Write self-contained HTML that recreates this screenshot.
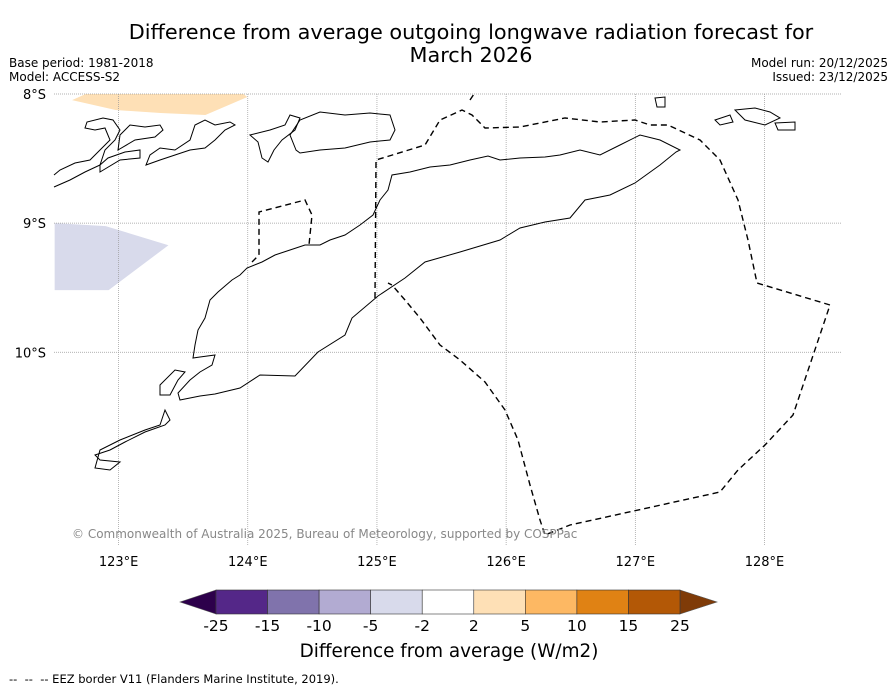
<!DOCTYPE html>
<html><head><meta charset="utf-8"><style>
body{margin:0;background:#fff;font-family:"DejaVu Sans","Liberation Sans",sans-serif;}
svg{display:block}
</style></head><body>
<svg id="chart" width="896" height="690" viewBox="0 0 896 690">
<text x="471" y="39" font-size="20.8" text-anchor="middle">Difference from average outgoing longwave radiation forecast for</text>
<text x="471" y="62" font-size="20.8" text-anchor="middle">March 2026</text>
<text x="9" y="67" font-size="12">Base period: 1981-2018</text>
<text x="9" y="81" font-size="12">Model: ACCESS-S2</text>
<text x="888" y="67" font-size="12" text-anchor="end">Model run: 20/12/2025</text>
<text x="888" y="81" font-size="12" text-anchor="end">Issued: 23/12/2025</text>
<g id="fills"></g>
<g id="grid"></g>
<g id="coast" fill="none" stroke="#000" stroke-width="1">
<path d="M180,400 L200,396 L215,394 L240,388 L260,375 L295,376 L318,352 L345,335 L352,318 L378,296 L405,278 L425,262 L460,252 L500,240 L520,228 L545,222 L570,218 L585,200 L610,195 L635,183 L660,165 L676,152 L680,150 L660,140 L640,135 L620,145 L600,155 L580,150 L560,155 L545,157 L520,158 L500,160 L488,156 L470,160 L450,165 L430,167 L410,172 L392,175 L388,190 L380,200 L373,215 L360,225 L345,235 L330,240 L320,245 L305,245 L290,250 L275,255 L262,262 L247,268 L240,275 L232,280 L218,292 L210,300 L205,318 L198,330 L195,345 L193,358 L200,357 L215,355 L212,365 L200,372 L190,380 L178,393 Z"/>
<path d="M54,187 L70,180 L85,172 L100,165 L105,150 L115,140 L120,130 L113,120 L103,118 L87,122 L85,128 L95,130 L105,128 L110,140 L100,150 L90,160 L75,163 L60,170 L54,175"/>
<path d="M118,150 L135,140 L155,137 L163,130 L160,125 L145,127 L130,125 L120,135 Z"/>
<path d="M100,172 L120,160 L140,158 L140,150 L125,152 L108,158 L100,165 Z"/>
<path d="M146,165 L160,160 L175,155 L190,150 L205,148 L215,140 L225,130 L235,125 L230,122 L215,125 L205,120 L195,125 L190,140 L175,150 L160,148 L150,155 Z"/>
<path d="M296,150 L290,135 L300,120 L320,112 L345,115 L370,113 L390,115 L395,130 L390,140 L370,142 L345,148 L320,150 L300,153 Z"/>
<path d="M250,135 L270,130 L285,125 L290,115 L300,118 L295,130 L282,140 L274,150 L268,162 L262,158 L258,142 Z"/>
<path d="M735,110 L755,108 L770,112 L780,118 L765,125 L745,120 Z"/>
<path d="M775,123 L795,122 L795,130 L778,130 Z"/>
<path d="M715,120 L730,115 L733,122 L720,125 Z"/>
<path d="M655,98 L665,97 L665,107 L657,107 Z"/>
<path d="M160,385 L175,370 L185,372 L178,380 L170,395 L160,395 Z"/>
<path d="M95,455 L110,450 L125,442 L145,432 L165,425 L170,420 L165,410 L160,425 L145,430 L120,440 L100,450 L95,468 L110,470 L120,462 L100,460 Z"/>
</g>
<g fill="none" stroke="#000" stroke-width="1.4" stroke-dasharray="6,4">
<path d="M375,298 L376,160 L425,145 L440,120 L462,110 L472,115 L485,128 L520,127 L565,118 L600,122 L635,120 L650,125 L668,125 L700,140 L720,160 L738,200 L748,240 L757,283 L830,305 L793,415 L765,445 L738,470 L720,492 L570,525 L545,535 L540,520 L530,485 L518,440 L505,410 L485,382 L460,360 L440,345 L420,318 L405,300 L392,285 L388,283"/>
<path d="M252,262 L259,255 L259,212 L305,200 L312,215 L309,245"/>
<path d="M470,100 L474,94"/>
</g>
<text x="72" y="538" font-size="12" fill="#888">© Commonwealth of Australia 2025, Bureau of Meteorology, supported by COSPPac</text>
<g id="lonlabels"></g>
<g id="latlabels"></g>
<g id="colorbar"></g>
<text x="449" y="657" font-size="18.4" text-anchor="middle">Difference from average (W/m2)</text>
<text x="9" y="683" font-size="11.5" xml:space="preserve">--  --  -- EEZ border V11 (Flanders Marine Institute, 2019).</text>
</svg>
<script>
const lonTicks=[123,124,125,126,127,128];
const lonTickLabels=["123°E","124°E","125°E","126°E","127°E","128°E"];
const latTicks=[-8,-9,-10];
const latTickLabels=["8°S","9°S","10°S"];
const posAnomLon=[122.64,122.745,123.966,123.997,123.672,123.325,122.977];
const posAnomLat=[-8.047,-8,-8,-8.023,-8.163,-8.147,-8.124];
const negAnomLon=[122.505,122.9,123.386,122.923,122.505];
const negAnomLat=[-9.0,-9.023,-9.171,-9.519,-9.519];
const cbLevels=[-25,-15,-10,-5,-2,2,5,10,15,25];
const cbColors=["#542788","#8073ac","#b2abd2","#d8daeb","#ffffff","#fee0b6","#fdb863","#e08214","#b35806"];
const cbUnder="#2d004b", cbOver="#7f3b08";
const NS="http://www.w3.org/2000/svg";
const X0=54,X1=842,Y0=94,Y1=546,lonMin=122.5,lonMax=128.6,latMax=-8,latMin=-11.5;
function xs(lon){return X0+(lon-lonMin)/(lonMax-lonMin)*(X1-X0);}
function ys(lat){return Y0+(latMax-lat)/(latMax-latMin)*(Y1-Y0);}
function mk(t,a,p){const e=document.createElementNS(NS,t);for(const k in a)e.setAttribute(k,a[k]);p.appendChild(e);return e;}
const fills=document.getElementById('fills');
let p=mk('polygon',{points:posAnomLon.map((l,i)=>xs(l)+','+ys(posAnomLat[i])).join(' '),fill:'#fee0b6'},fills);


p=mk('polygon',{points:negAnomLon.map((l,i)=>xs(l)+','+ys(negAnomLat[i])).join(' '),fill:'#d8daeb'},fills);


const grid=document.getElementById('grid');
lonTicks.forEach((l,i)=>{
 const g=mk('line',{x1:xs(l),x2:xs(l),y1:Y0,y2:Y1,stroke:'#999','stroke-width':0.7,'stroke-dasharray':'1,1'},grid);
 
 
 const t=mk('text',{x:xs(l),y:566,'font-size':13,'text-anchor':'middle'},document.getElementById('lonlabels'));
 t.textContent=lonTickLabels[i];
 
 
});
latTicks.forEach((l,i)=>{
 const g=mk('line',{x1:X0,x2:X1,y1:ys(l),y2:ys(l),stroke:'#999','stroke-width':0.7,'stroke-dasharray':'1,1'},grid);
 
 
 const t=mk('text',{x:46,y:ys(l)+5,'font-size':13,'text-anchor':'end'},document.getElementById('latlabels'));
 t.textContent=latTickLabels[i];
 
 
});
const cb=document.getElementById('colorbar');
const cbX0=216,cbX1=680,cbY=590,cbH=24;
const w=(cbX1-cbX0)/cbColors.length;
let a=mk('polygon',{points:`${cbX0},${cbY} ${cbX0},${cbY+cbH} 180,${cbY+cbH/2}`,fill:cbUnder,stroke:'#555','stroke-width':0.6},cb);


a=mk('polygon',{points:`${cbX1},${cbY} ${cbX1},${cbY+cbH} 717,${cbY+cbH/2}`,fill:cbOver,stroke:'#555','stroke-width':0.6},cb);


cbColors.forEach((c,i)=>{
 const r=mk('rect',{x:cbX0+i*w,y:cbY,width:w,height:cbH,fill:c,stroke:'#333','stroke-width':0.6},cb);
 
 
});
cbLevels.forEach((v,i)=>{
 const t=mk('text',{x:cbX0+i*w,y:631,'font-size':15.5,'text-anchor':'middle'},cb);
 t.textContent=v;
 
 
});
</script>
</body></html>
